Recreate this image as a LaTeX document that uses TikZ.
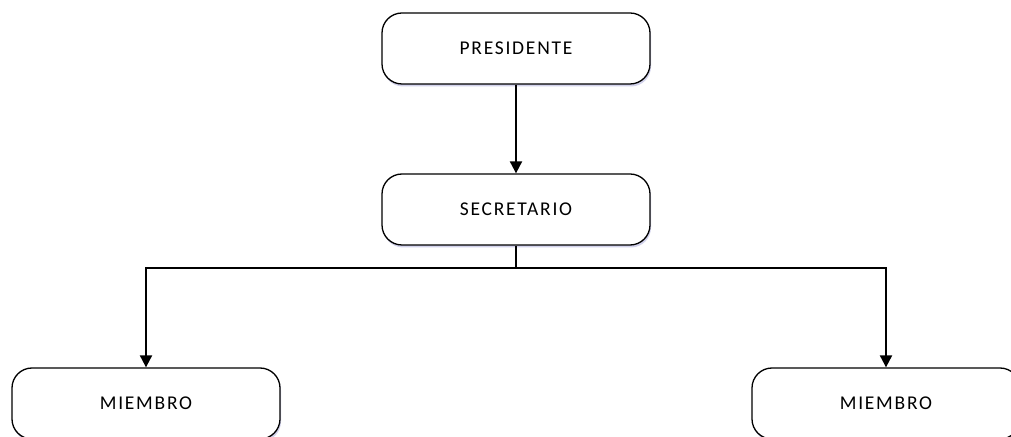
\documentclass[tikz,border=0pt]{standalone}
\usepackage{fontspec}
\setmainfont{Carlito}[LetterSpace=9]
\usetikzlibrary{arrows.meta,shadows}
\begin{document}
\begin{tikzpicture}[x=1pt,y=1pt,
  orgbox/.style={draw=black, line width=1.3pt, fill=white, rounded corners=20pt,
    minimum width=268pt, minimum height=71pt, inner sep=0pt,
    font=\fontsize{19.5}{22}\selectfont,
    drop shadow={shadow xshift=1pt, shadow yshift=-2.5pt, fill=blue!40!gray, opacity=0.25}},
  link/.style={line width=2pt, draw=black},
  tip/.style={-{Triangle[width=12pt,length=12pt]}}]
\useasboundingbox (0,0) rectangle (1011,436);
\clip (0,0) rectangle (1011,436);
\fill[white] (0,0) rectangle (1011,436);
\node[orgbox] (pres) at (516,387.5) {PRESIDENTE};
\node[orgbox] (sec) at (516,226.5) {SECRETARIO};
\node[orgbox] (m1) at (146,32.5) {MIEMBRO};
\node[orgbox] (m2) at (886,32.5) {MIEMBRO};
\coordinate (j) at (516,168);
\draw[link,tip] (pres.south) -- (sec.north);
\draw[link] (sec.south) -- (j);
\draw[link,tip] (j) -| (m1.north);
\draw[link,tip] (j) -| (m2.north);
\end{tikzpicture}
\end{document}
